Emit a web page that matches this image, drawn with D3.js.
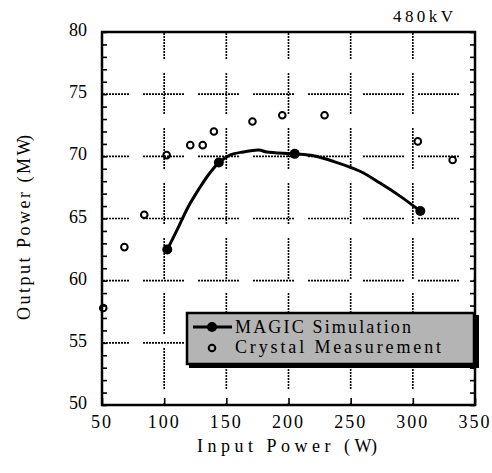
<!DOCTYPE html>
<html>
<head>
 <meta charset="UTF-8">
 <title>Output Power vs Input Power</title>
 <script src="https://d3js.org/d3.v7.min.js"></script>
 <style>
  body { margin: 0; background: #fff; }
  text { font-family: "Liberation Serif", "Times New Roman", serif; fill: #000; }
 </style>
</head>
<body>
	<script type="text/javascript">
		// MAGIC simulation curve (input W, output MW)
		var simInput = [102.5, 110, 119.4, 127.5, 135.5, 144, 152.9, 163.6, 176.3, 182.5, 205, 220, 236, 257.5, 273.6, 289.7, 306];
		var simOutput = [62.5, 64.0, 65.95, 67.3, 68.5, 69.5, 70.1, 70.35, 70.5, 70.35, 70.2, 70.05, 69.6, 68.8, 67.85, 66.8, 65.6];
		// points where the simulation markers sit
		var simMarkInput = [102.5, 144, 205, 306];
		var simMarkOutput = [62.5, 69.5, 70.2, 65.6];
		// crystal measurement
		var measInput = [51, 68, 84, 102, 121, 131, 140, 171, 195, 229, 304, 332];
		var measOutput = [57.8, 62.7, 65.3, 70.1, 70.9, 70.9, 72.0, 72.8, 73.3, 73.3, 71.2, 69.7];
		var xTicks = [50, 100, 150, 200, 250, 300, 350];
		var yTicks = [50, 55, 60, 65, 70, 75, 80];
		var legendLabels = ["MAGIC Simulation", "Crystal Measurement"];

		var width = 492, height = 473;
		var pLeft = 102, pTop = 32, pw = 373, ph = 373;

		var svg = d3.select('body').append('svg')
			.attr('width', width)
			.attr('height', height);

		var x = d3.scaleLinear().domain([50, 350]).range([pLeft, pLeft + pw]);
		var y = d3.scaleLinear().domain([50, 80]).range([pTop + ph, pTop]);

		// dotted long-dash pattern used for the grid
		function gridDash() {
			var parts = [];
			for (var i = 0; i < 14; i++) parts.push(2, 1);
			parts[parts.length - 1] = 14;
			return parts.join(',');
		}

		var grid = svg.append('g');
		grid.selectAll('.hgrid')
			.data(yTicks.slice(1, -1))
			.enter().append('line')
			.attr('x1', pLeft).attr('x2', pLeft + pw)
			.attr('y1', function (d) { return y(d); })
			.attr('y2', function (d) { return y(d); })
			.attr('stroke', '#000').attr('stroke-width', 1.6)
			.attr('stroke-dasharray', gridDash())
			.attr('stroke-dashoffset', 14);
		grid.selectAll('.vgrid')
			.data(xTicks.slice(1, -1))
			.enter().append('line')
			.attr('y1', pTop).attr('y2', pTop + ph)
			.attr('x1', function (d) { return x(d); })
			.attr('x2', function (d) { return x(d); })
			.attr('stroke', '#000').attr('stroke-width', 1.6)
			.attr('stroke-dasharray', gridDash())
			.attr('stroke-dashoffset', 14);

		// axes with inward ticks
		var yMinor = d3.range(50, 81, 1);
		svg.append('g').attr('transform', 'translate(' + pLeft + ',0)')
			.call(d3.axisRight(y).tickValues(yMinor).tickSize(5).tickFormat(''))
			.call(function (g) { g.select('.domain').remove(); });
		svg.append('g').attr('transform', 'translate(' + (pLeft + pw) + ',0)')
			.call(d3.axisLeft(y).tickValues(yMinor).tickSize(5).tickFormat(''))
			.call(function (g) { g.select('.domain').remove(); });
		svg.append('g').attr('transform', 'translate(0,' + (pTop + ph) + ')')
			.call(d3.axisTop(x).tickValues(xTicks).tickSize(7).tickFormat(''))
			.call(function (g) { g.select('.domain').remove(); });
		svg.selectAll('.tick line').attr('stroke-width', 1.6);

		// tick labels
		svg.selectAll('.ylab')
			.data(yTicks)
			.enter().append('text')
			.attr('x', 87)
			.attr('y', function (d) { return y(d) + 4; })
			.attr('text-anchor', 'end')
			.attr('font-size', 18)
			.text(function (d) { return d; });
		svg.selectAll('.xlab')
			.data(xTicks)
			.enter().append('text')
			.attr('x', function (d) { return x(d); })
			.attr('y', 428)
			.attr('text-anchor', 'middle')
			.attr('font-size', 18)
			.attr('letter-spacing', 2)
			.text(function (d) { return d; });

		// frame
		svg.append('rect')
			.attr('x', pLeft).attr('y', pTop)
			.attr('width', pw).attr('height', ph)
			.attr('fill', 'none').attr('stroke', '#000').attr('stroke-width', 2.5);

		// simulation curve
		var line = d3.line()
			.x(function (d) { return x(d[0]); })
			.y(function (d) { return y(d[1]); })
			.curve(d3.curveCatmullRom.alpha(0.5));
		svg.append('path')
			.datum(d3.zip(simInput, simOutput))
			.attr('d', line)
			.attr('fill', 'none').attr('stroke', '#000').attr('stroke-width', 3);
		svg.selectAll('.simpt')
			.data(d3.zip(simMarkInput, simMarkOutput))
			.enter().append('circle')
			.attr('cx', function (d) { return x(d[0]); })
			.attr('cy', function (d) { return y(d[1]); })
			.attr('r', 5).attr('fill', '#000');

		svg.selectAll('.measpt')
			.data(d3.zip(measInput, measOutput))
			.enter().append('circle')
			.attr('cx', function (d) { return x(d[0]); })
			.attr('cy', function (d) { return y(d[1]); })
			.attr('r', 3.3).attr('fill', 'none')
			.attr('stroke', '#000').attr('stroke-width', 2);

		// legend
		var lg = svg.append('g');
		lg.append('rect').attr('x', 189).attr('y', 315).attr('width', 290).attr('height', 53).attr('fill', '#000');
		lg.append('rect').attr('x', 187).attr('y', 313).attr('width', 287).attr('height', 51)
			.attr('fill', '#b4b4b4').attr('stroke', '#000').attr('stroke-width', 2.5);
		lg.append('line').attr('x1', 193).attr('x2', 232).attr('y1', 327).attr('y2', 327)
			.attr('stroke', '#000').attr('stroke-width', 3);
		lg.append('circle').attr('cx', 212).attr('cy', 327).attr('r', 5).attr('fill', '#000');
		lg.append('circle').attr('cx', 212).attr('cy', 348).attr('r', 3.3)
			.attr('fill', 'none').attr('stroke', '#000').attr('stroke-width', 2);
		lg.selectAll('.lgtext')
			.data(legendLabels)
			.enter().append('text')
			.attr('x', 235)
			.attr('y', function (d, i) { return 333 + i * 20; })
			.attr('font-size', 18)
			.attr('textLength', function (d, i) { return i == 0 ? 176 : 206; })
			.attr('lengthAdjust', 'spacing')
			.text(function (d) { return d; });

		// titles
		svg.append('text')
			.attr('x', 453).attr('y', 22)
			.attr('text-anchor', 'end')
			.attr('font-size', 17)
			.attr('textLength', 60).attr('lengthAdjust', 'spacing')
			.text('480kV');

		var xt = svg.append('text')
			.attr('x', 197).attr('y', 452)
			.attr('font-size', 18)
			.attr('textLength', 180).attr('lengthAdjust', 'spacing');
		xt.append('tspan').text('Input Power (W');
		xt.append('tspan').attr('dx', -5).text(')');

		var yt = svg.append('text')
			.attr('transform', 'translate(30,320) rotate(-90)')
			.attr('font-size', 18)
			.attr('textLength', 185).attr('lengthAdjust', 'spacing');
		yt.append('tspan').text('Output Power (MW');
		yt.append('tspan').attr('dx', -5).text(')');
	</script>
</body>
</html>
